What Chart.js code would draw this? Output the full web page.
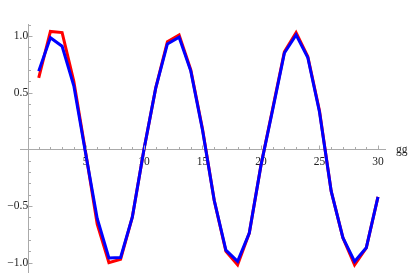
<!DOCTYPE html>
<html>
<head>
<meta charset="utf-8">
<script src="https://cdn.jsdelivr.net/npm/chart.js@4"></script>
<style>
  body { margin: 0; background: #fff; }
  canvas { display: block; }
</style>
</head>
<body>
<canvas id="chart" width="409" height="273"></canvas>
<script>
// data
const xs = [1, 2, 3, 4, 5, 6, 7, 8, 9, 10, 11, 12, 13, 14, 15, 16, 17, 18, 19, 20, 21, 22, 23, 24, 25, 26, 27, 28, 29, 30];
const redValues = [0.63, 1.04, 1.03, 0.60, -0.02, -0.66, -1.00, -0.97, -0.60, 0.00, 0.54, 0.95, 1.01, 0.70, 0.18, -0.45, -0.90, -1.02, -0.74, -0.14, 0.36, 0.86, 1.03, 0.82, 0.34, -0.37, -0.78, -1.02, -0.87, -0.42];
const blueValues = [0.69, 0.985, 0.91, 0.56, -0.03, -0.61, -0.96, -0.955, -0.60, 0.00, 0.54, 0.93, 0.99, 0.69, 0.17, -0.45, -0.89, -0.99, -0.74, -0.14, 0.35, 0.85, 1.01, 0.81, 0.33, -0.37, -0.78, -0.99, -0.87, -0.42];
const xMajor = [5, 10, 15, 20, 25, 30];
const yMajor = [-1.0, -0.5, 0.5, 1.0];
const xLabel = "gg";

const axisGray = "#aaaaaa";
const font = { family: "Liberation Serif", size: 11.5 };

function toPoints(vals) {
    return xs.map((x, i) => ({ x: x, y: vals[i] }));
}

// axes sit inside the plot, so they should not eat any room
function noRoom(s) {
    if (s.isHorizontal()) s.height = 0; else s.width = 0;
    s.paddingTop = s.paddingBottom = s.paddingLeft = s.paddingRight = 0;
}

// small Mathematica-like tick marks on the axis lines, plus the axis label
const axisTicks = {
    id: "axisTicks",
    afterDraw(chart) {
        const ctx = chart.ctx;
        const sx = chart.scales.x;
        const sy = chart.scales.y;
        const x0 = Math.round(sx.getPixelForValue(0.1)) + 0.5;
        const y0 = Math.round(sy.getPixelForValue(0)) + 0.5;
        ctx.save();
        ctx.strokeStyle = axisGray;
        ctx.lineWidth = 1;
        ctx.beginPath();
        sx.ticks.forEach(t => {
            if (t.value <= 0) return;
            const px = Math.round(sx.getPixelForValue(t.value)) + 0.5;
            const len = xMajor.includes(t.value) ? 4 : 2.5;
            ctx.moveTo(px, y0);
            ctx.lineTo(px, y0 - len);
        });
        sy.ticks.forEach(t => {
            const v = Math.round(t.value * 10) / 10;
            if (v === 0) return;
            const py = Math.round(sy.getPixelForValue(v)) + 0.5;
            const len = yMajor.includes(v) ? 4 : 2.5;
            ctx.moveTo(x0, py);
            ctx.lineTo(x0 + len, py);
        });
        ctx.stroke();
        ctx.fillStyle = "#222";
        ctx.font = font.size + "px " + font.family;
        ctx.textAlign = "left";
        ctx.textBaseline = "alphabetic";
        ctx.fillText(xLabel, 396, 153);
        ctx.restore();
    }
};

new Chart(document.getElementById("chart"), {
    type: "line",
    data: {
        datasets: [{
            data: toPoints(redValues),
            borderColor: "#ff0000",
            borderWidth: 3,
            pointRadius: 0,
            fill: false,
            order: 2
        }, {
            data: toPoints(blueValues),
            borderColor: "#0000ff",
            borderWidth: 3,
            pointRadius: 0,
            fill: false,
            order: 1
        }]
    },
    options: {
        responsive: false,
        animation: false,
        layout: { padding: { left: 20, right: 24, top: 24, bottom: 0 } },
        plugins: { legend: { display: false }, tooltip: { enabled: false } },
        scales: {
            x: {
                type: "linear",
                position: { y: 0 },
                min: -0.6,
                max: 30.6,
                afterFit: noRoom,
                grid: { display: true, drawOnChartArea: false, drawTicks: false },
                border: { display: true, color: axisGray, width: 1 },
                ticks: {
                    stepSize: 1,
                    includeBounds: false,
                    autoSkip: false,
                    maxRotation: 0,
                    padding: 6,
                    color: "#222",
                    font: font,
                    callback: v => xMajor.includes(v) ? String(v) : ""
                }
            },
            y: {
                type: "linear",
                position: { x: 0.1 },
                min: -1.092,
                max: 1.106,
                afterFit: noRoom,
                grid: { display: true, drawOnChartArea: false, drawTicks: false },
                border: { display: true, color: axisGray, width: 1 },
                ticks: {
                    stepSize: 0.1,
                    includeBounds: false,
                    autoSkip: false,
                    padding: 6,
                    color: "#222",
                    font: font,
                    callback: v => {
                        const r = Math.round(v * 10) / 10;
                        if (!yMajor.includes(r)) return "";
                        return (r < 0 ? "\u2212" : "") + Math.abs(r).toFixed(1);
                    }
                }
            }
        }
    },
    plugins: [axisTicks]
});
</script>
</body>
</html>
